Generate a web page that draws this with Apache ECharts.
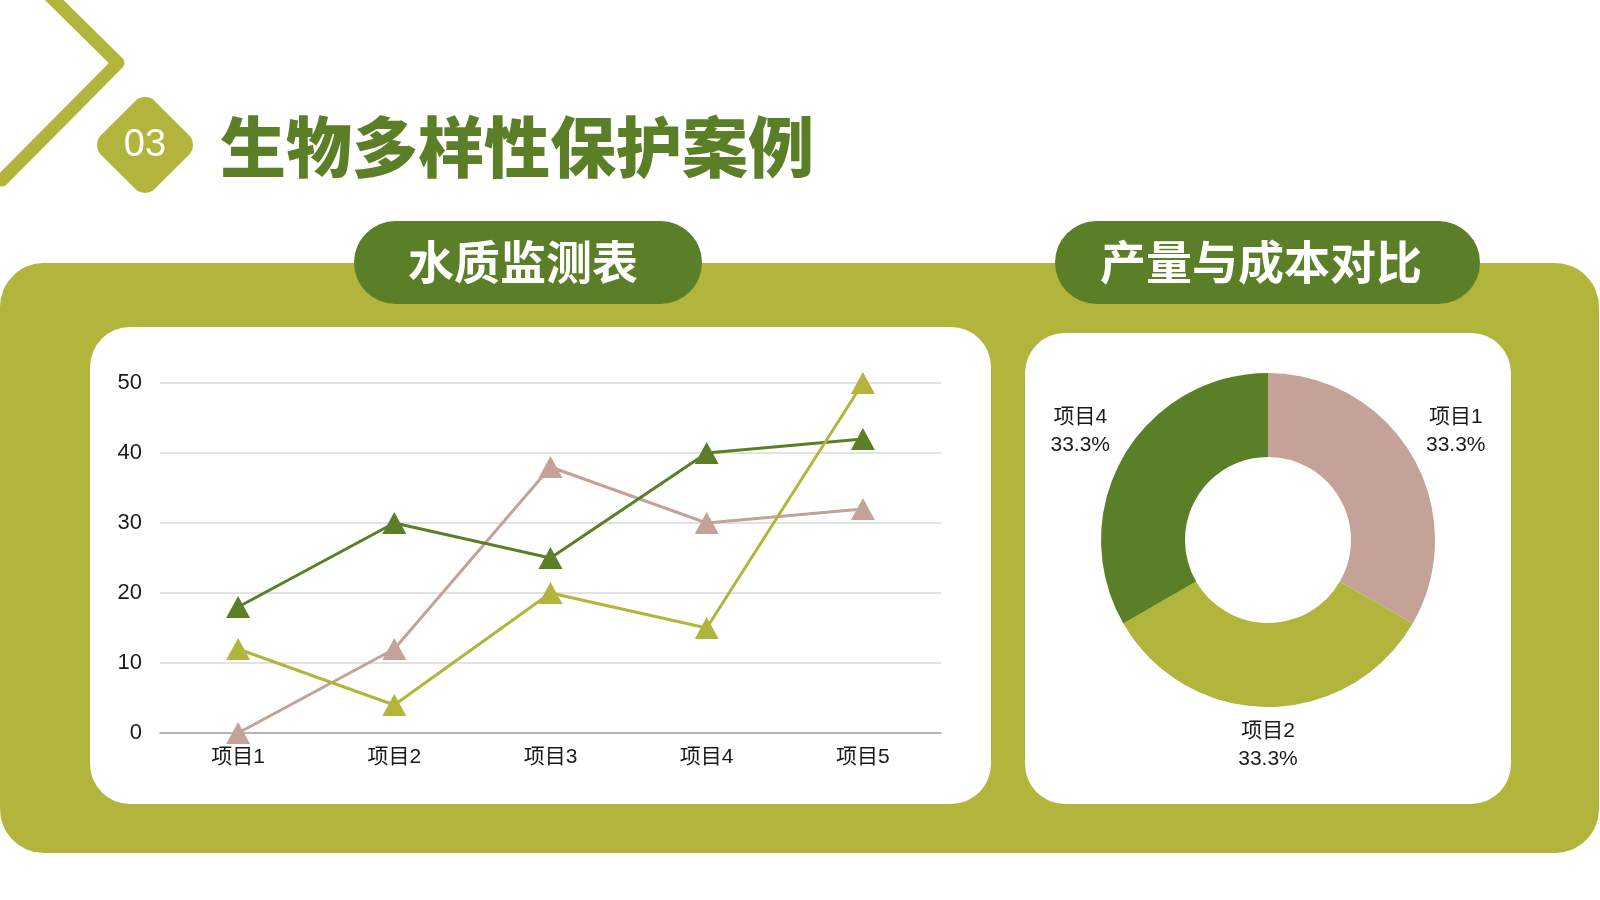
<!DOCTYPE html>
<html>
<head>
<meta charset="utf-8">
<title>生物多样性保护案例</title>
<script src="https://cdn.jsdelivr.net/npm/echarts@6/dist/echarts.min.js"></script>
<style>
    html, body { margin: 0; padding: 0; background: #fff; }
    #main { width: 1600px; height: 900px; }
</style>
</head>
<body>
<div id="main"></div>
<script>
    // 折线图数据
    var categories = ['项目1', '项目2', '项目3', '项目4', '项目5'];
    var darkValues = [18, 30, 25, 40, 42];
    var pinkValues = [0, 12, 38, 30, 32];
    var lightValues = [12, 4, 20, 15, 50];

    // 环形图数据
    var pieNames = ['项目1', '项目2', '项目4'];
    var pieValues = [1, 1, 1];

    var DARK = '#5b7f27';
    var LIGHT = '#b2b53c';
    var PINK = '#c4a298';
    var pieColors = [PINK, LIGHT, DARK];
    var pieCenter = [1268, 540];

    var numFont = '"Liberation Sans", "Noto Sans CJK SC", sans-serif';
    var cjkFont = '"Noto Sans CJK SC", sans-serif';

    var myChart = echarts.init(document.getElementById('main'));

    function lineSeries(name, values, color) {
        return {
            name: name,
            type: 'line',
            data: values,
            symbol: 'triangle',
            symbolSize: [24, 22],
            lineStyle: { color: color, width: 3 },
            itemStyle: { color: color },
            z: 3
        };
    }

    var option = {
        animation: false,
        graphic: [
            // 左上角折线装饰
            {
                type: 'polyline',
                z: -10,
                shape: { points: [[42, -12], [118, 63], [2, 180]] },
                style: { stroke: LIGHT, lineWidth: 13, fill: null, lineJoin: 'round', lineCap: 'round' }
            },
            {
                type: 'rect',
                z: -10,
                x: 145, y: 145,
                rotation: Math.PI / 4,
                shape: { x: -38, y: -38, width: 76, height: 76, r: 14 },
                style: { fill: LIGHT }
            },
            {
                type: 'text',
                z: -9,
                x: 145, y: 146,
                style: {
                    text: '03', fill: '#fff', font: '38px ' + numFont,
                    align: 'center', verticalAlign: 'middle'
                }
            },
            {
                type: 'text',
                z: -9,
                x: 220, y: 147,
                style: {
                    text: '生物多样性保护案例', fill: DARK,
                    font: '900 66px ' + cjkFont,
                    align: 'left', verticalAlign: 'middle'
                }
            },
            // 大背景面板
            {
                type: 'rect',
                z: -10,
                shape: { x: 0, y: 263, width: 1599, height: 590, r: 44 },
                style: { fill: LIGHT }
            },
            {
                type: 'rect',
                z: -9,
                shape: { x: 90, y: 327, width: 901, height: 477, r: 40 },
                style: { fill: '#fff' }
            },
            {
                type: 'rect',
                z: -9,
                shape: { x: 1025, y: 333, width: 486, height: 471, r: 40 },
                style: { fill: '#fff' }
            },
            // 标题胶囊
            {
                type: 'rect',
                z: -8,
                shape: { x: 354, y: 221, width: 348, height: 83, r: 41.5 },
                style: { fill: DARK }
            },
            {
                type: 'text',
                z: -7,
                x: 523, y: 262,
                style: {
                    text: '水质监测表', fill: '#fff', font: 'bold 46px ' + cjkFont,
                    align: 'center', verticalAlign: 'middle'
                }
            },
            {
                type: 'rect',
                z: -8,
                shape: { x: 1055, y: 221, width: 425, height: 83, r: 41.5 },
                style: { fill: DARK }
            },
            {
                type: 'text',
                z: -7,
                x: 1261, y: 262,
                style: {
                    text: '产量与成本对比', fill: '#fff', font: 'bold 46px ' + cjkFont,
                    align: 'center', verticalAlign: 'middle'
                }
            }
        ],
        grid: { left: 160, right: 659, top: 383, bottom: 167 },
        xAxis: {
            type: 'category',
            data: categories,
            boundaryGap: true,
            axisTick: { show: false },
            axisLine: { lineStyle: { color: '#a6a6a6', width: 1.5 } },
            axisLabel: { color: '#1a1a1a', fontSize: 21, margin: 14, fontFamily: numFont }
        },
        yAxis: {
            type: 'value',
            min: 0,
            max: 50,
            interval: 10,
            axisLine: { show: false },
            axisTick: { show: false },
            axisLabel: { color: '#1a1a1a', fontSize: 22, margin: 18, fontFamily: numFont },
            splitLine: { lineStyle: { color: '#d9d9d9', width: 1.5 } }
        },
        series: [
            lineSeries('系列1', pinkValues, PINK),
            lineSeries('系列2', darkValues, DARK),
            lineSeries('系列3', lightValues, LIGHT),
            {
                name: '产量与成本对比',
                type: 'pie',
                center: pieCenter,
                radius: [83, 167],
                startAngle: 90,
                clockwise: true,
                avoidLabelOverlap: false,
                data: pieNames.map(function (n, i) {
                    return { name: n, value: pieValues[i], itemStyle: { color: pieColors[i] } };
                }),
                itemStyle: { borderWidth: 0 },
                label: {
                    show: true,
                    position: 'outside',
                    distanceToLabelLine: 0,
                    color: '#1a1a1a',
                    fontSize: 21,
                    lineHeight: 28,
                    fontFamily: numFont,
                    formatter: function (p) {
                        return p.name + '\n' + p.percent.toFixed(1) + '%';
                    }
                },
                labelLine: { show: false, length: 10, length2: 0 },
                // 标签沿径向外推，使其包围盒刚好贴住引导点
                labelLayout: function (p) {
                    var r = p.labelRect;
                    var ax = p.align === 'right' ? r.x + r.width : r.x;
                    var ay = r.y + r.height / 2;
                    var ux = ax - pieCenter[0], uy = ay - pieCenter[1];
                    var len = Math.sqrt(ux * ux + uy * uy) || 1;
                    ux /= len; uy /= len;
                    var s = r.width / 2 * Math.abs(ux) + r.height / 2 * Math.abs(uy);
                    return {
                        x: ax + ux * s,
                        y: ay + uy * s,
                        align: 'center',
                        verticalAlign: 'middle'
                    };
                }
            }
        ]
    };
    myChart.setOption(option);
</script>
</body>
</html>
